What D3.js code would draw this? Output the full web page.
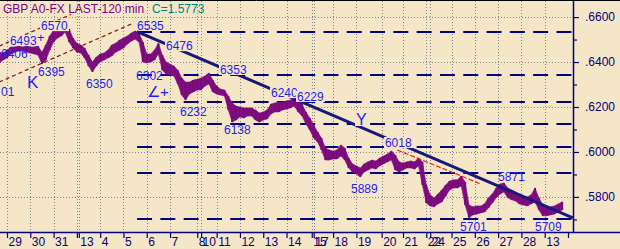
<!DOCTYPE html>
<html>
<head>
<meta charset="utf-8">
<script src="https://cdn.jsdelivr.net/npm/d3@7"></script>
<style>
  body { margin: 0; background: #f5e6c8; }
  svg { display: block; font-family: "Liberation Sans", Arial, sans-serif; }
</style>
</head>
<body>
<svg id="chart" width="620" height="249"></svg>
<script>

// 120 min GBP bars, one sample every 2nd bar, prices in pips above 1.0000
var barStart = -4, barStep = 2;
var highs = [
  6444,6440,6453,6467,6467,6471,6467,6471,6467,6467,
  6471,6444,6476,6516,6542,6551,6556,6569,6547,6507,
  6484,6476,6462,6431,6400,6422,6436,6440,6453,6476,
  6484,6498,6507,6516,6529,6538,6529,6489,6436,6436,
  6453,6484,6431,6400,6391,6382,6364,6329,6311,6311,
  6320,6324,6329,6338,6351,6320,6293,6280,6276,6249,
  6218,6204,6200,6196,6196,6196,6187,6173,6178,6187,
  6213,6218,6222,6222,6227,6231,6240,6231,6213,6178,
  6151,6120,6089,6062,6018,6009,6004,6009,6031,6018,
  5973,5947,5938,5929,5947,5956,5964,5960,5973,5982,
  5991,6004,5987,5956,5951,5956,5960,5956,5973,5956,
  5853,5809,5796,5813,5831,5853,5871,5876,5876,5893,
  5867,5764,5756,5760,5760,5769,5796,5813,5840,5858,
  5862,5840,5831,5822,5809,5804,5800,5809,5840,5796,
  5764,5751,5756,5760,5769,5778
];
var lows = [
  6396,6409,6418,6436,6444,6449,6449,6444,6440,6436,
  6431,6391,6409,6453,6489,6507,6516,6533,6489,6462,
  6444,6440,6418,6382,6356,6382,6400,6409,6418,6427,
  6444,6453,6462,6480,6493,6502,6489,6400,6396,6400,
  6409,6436,6364,6347,6342,6338,6302,6253,6231,6258,
  6267,6276,6276,6293,6302,6267,6258,6253,6249,6187,
  6133,6142,6156,6151,6160,6160,6142,6133,6142,6147,
  6169,6178,6178,6187,6191,6196,6204,6178,6160,6124,
  6098,6062,6044,6009,5964,5964,5969,5969,5982,5964,
  5929,5911,5902,5889,5911,5920,5929,5924,5938,5947,
  5956,5964,5920,5911,5920,5929,5929,5924,5938,5853,
  5773,5760,5756,5769,5778,5804,5831,5840,5840,5849,
  5764,5707,5720,5724,5729,5733,5751,5773,5796,5813,
  5822,5796,5787,5782,5769,5764,5760,5769,5778,5742,
  5716,5716,5720,5724,5733,5742
];

// day ticks (bar index) and their labels
var dayTicks  = [0,12,24,36,37,48,60,72,84,98,100,108,120,132,144,157,158,168,180,193,204,216,218,229,241,253,265,277,289];
var dayLabels = ["29","30","31","","13","4","5","6","7","8","10","11","12","13","14","15","17","18","19","20","21","22","24","25","26","27","28","13",""];

var priceTicks = [5800, 6000, 6200, 6400, 6600];
var minorTicks = [5700, 5900, 6100, 6300, 6500];

// horizontal retracement levels
var levels = [6535, 6342, 6222, 6124, 6024, 5905, 5701];

// drawn lines: [bar, pips] pairs
var trendLine   = [[67, 6535], [291.5, 5707]];
var channelLow  = [[-4, 6311], [65, 6573]];
var channelHigh = [[-4, 6471], [33, 6612]];
var redLine     = [[201, 6009], [244, 5858]];

// swing annotations
var noteText = ["6406","6493","+","6570","6395","K","01","6350","6535","6476","6302","\u2220+","6232","6353","6240","6229","6138","Y","6018","5889","5871","5701","5709"];
var noteBar  = [-3.1, 1.5, 15.5, 17.5, 16, 10.3, -3.1, 40.7, 67, 81.9, 66.5, 72.1, 89.1, 109.7, 136, 149.4, 111.8, 179.8, 194.7, 177.2, 253, 233.4, 272];
var notePips = [6418, 6476, 6489, 6542, 6338, 6284, 6249, 6284, 6542, 6453, 6320, 6244, 6160, 6347, 6244, 6227, 6080, 6120, 6022, 5818, 5871, 5649, 5649];
var noteSize = [12,12,13,12,12,17,12,12,12,12,12,15,12,12,12,12,12,16,12,12,12,12,12];
var noteMask = [0,1,0,1,0,0,0,0,0,1,0,0,0,1,1,1,0,1,1,0,0,0,0];

var bg = "#f5e6c8", navy = "#000080", blue = "#1e1ef5", purple = "#7f0f80";
var axisX = 573, axisY = 232;

var svg = d3.select("#chart");
var x = d3.scaleLinear().domain([0, 289]).range([7, 568]);
var y = d3.scaleLinear().domain([5644, 6676]).range([axisY, 0]);

svg.append("rect").attr("width", 620).attr("height", 249).attr("fill", bg);

// dotted grid
var grid = svg.append("g").attr("stroke", "#858585").attr("stroke-width", 1).attr("stroke-dasharray", "1,2");
grid.selectAll(".vg").data(dayTicks.filter(function(d, i) { return i < dayTicks.length - 1; }))
  .enter().append("line")
    .attr("x1", function(d) { return Math.round(x(d)) + 0.5; })
    .attr("x2", function(d) { return Math.round(x(d)) + 0.5; })
    .attr("y1", 1).attr("y2", axisY);
grid.selectAll(".hg").data(priceTicks)
  .enter().append("line")
    .attr("x1", 0).attr("x2", axisX)
    .attr("y1", function(d) { return Math.round(y(d)) + 0.5; })
    .attr("y2", function(d) { return Math.round(y(d)) + 0.5; });

// retracement levels
svg.append("g").selectAll("line").data(levels)
  .enter().append("line")
    .attr("x1", x(trendLine[0][0])).attr("x2", axisX)
    .attr("y1", function(d) { return Math.round(y(d)); })
    .attr("y2", function(d) { return Math.round(y(d)); })
    .attr("stroke", navy).attr("stroke-width", 2)
    .attr("stroke-dasharray", "15,8.3");

// price bars: high/low band plus one bar per sample
var bars = highs.map(function(h, i) { return {i: barStart + i * barStep, hi: h, lo: lows[i]}; });
var band = d3.area()
  .x(function(d) { return x(d.i); })
  .y0(function(d) { return y(d.lo); })
  .y1(function(d) { return y(d.hi); });
svg.append("path").datum(bars)
  .attr("d", band)
  .attr("fill", purple).attr("stroke", purple).attr("stroke-width", 0.6);
svg.append("g").selectAll("rect").data(bars)
  .enter().append("rect")
    .attr("x", function(d) { return x(d.i) - 1; })
    .attr("width", 2)
    .attr("y", function(d) { return y(d.hi); })
    .attr("height", function(d) { return y(d.lo) - y(d.hi); })
    .attr("fill", "#7a0a7c");

var seg = d3.line().x(function(d) { return x(d[0]); }).y(function(d) { return y(d[1]); });

svg.append("path").attr("d", seg(channelLow))
  .attr("fill", "none").attr("stroke", "#8a1010").attr("stroke-width", 1.2).attr("stroke-dasharray", "4,3");
svg.append("path").attr("d", seg(channelHigh))
  .attr("fill", "none").attr("stroke", "#8a1010").attr("stroke-width", 1.2).attr("stroke-dasharray", "4,3");
svg.append("path").attr("d", seg(redLine))
  .attr("fill", "none").attr("stroke", "#f02020").attr("stroke-width", 1.2).attr("stroke-dasharray", "5,2");

svg.append("path").attr("d", seg(trendLine))
  .attr("fill", "none").attr("stroke", "#181878").attr("stroke-width", 3);

// annotations
var notes = svg.append("g");
noteText.forEach(function(t, i) {
  var g = notes.append("g");
  var txt = g.append("text")
    .attr("x", x(noteBar[i])).attr("y", y(notePips[i]))
    .attr("fill", blue)
    .style("font-family", "'Liberation Sans Narrow', 'Arial Narrow', 'Liberation Sans', sans-serif")
    .style("font-size", noteSize[i] + "px")
    .text(t);
  if (noteMask[i]) {
    var b = txt.node().getBBox();
    g.insert("rect", "text")
      .attr("x", b.x - 1).attr("y", b.y + 1)
      .attr("width", b.width + 2).attr("height", b.height - 3)
      .attr("fill", bg);
  }
});

// bottom axis
svg.append("line").attr("x1", 0).attr("x2", 620).attr("y1", axisY + 0.5).attr("y2", axisY + 0.5)
  .attr("stroke", navy).attr("stroke-width", 1.5);
var xAxis = svg.append("g")
  .attr("transform", "translate(0," + axisY + ")")
  .call(d3.axisBottom(x).tickValues(dayTicks)
    .tickFormat(function(d, i) { return dayLabels[i]; })
    .tickSize(6).tickSizeOuter(0));
xAxis.select(".domain").remove();
xAxis.selectAll("line").attr("stroke", navy).attr("stroke-width", 1.2);
xAxis.selectAll("text")
  .attr("x", 1).attr("y", 5)
  .style("text-anchor", "start")
  .style("font-family", "'Liberation Sans', Arial, sans-serif")
  .style("font-size", "12px")
  .attr("fill", navy);

// right price axis
svg.append("line").attr("x1", axisX + 0.5).attr("x2", axisX + 0.5).attr("y1", 0).attr("y2", axisY)
  .attr("stroke", navy).attr("stroke-width", 1.5);
var yAxis = svg.append("g")
  .attr("transform", "translate(" + axisX + ",0)")
  .call(d3.axisRight(y).tickValues(priceTicks)
    .tickFormat(function(d) { return "." + d; })
    .tickSize(6).tickSizeOuter(0));
yAxis.select(".domain").remove();
yAxis.selectAll("line").attr("stroke", navy).attr("stroke-width", 1.2);
yAxis.selectAll("text")
  .attr("x", 12)
  .style("font-family", "'Liberation Sans', Arial, sans-serif")
  .style("font-size", "12px")
  .attr("fill", navy);
var yMinor = svg.append("g")
  .attr("transform", "translate(" + axisX + ",0)")
  .call(d3.axisRight(y).tickValues(minorTicks).tickFormat("").tickSize(4).tickSizeOuter(0));
yMinor.select(".domain").remove();
yMinor.selectAll("line").attr("stroke", navy).attr("stroke-width", 1.2);

// top frame line
svg.append("line").attr("x1", 0).attr("x2", 620).attr("y1", 0.5).attr("y2", 0.5)
  .attr("stroke", "#000").attr("stroke-width", 1);

// title
svg.append("text").attr("x", 3).attr("y", 13)
  .attr("fill", "#800080").style("font-size", "12px")
  .text("GBP A0-FX LAST-120 min");
svg.append("text").attr("x", 152).attr("y", 13)
  .attr("fill", "#008080").style("font-size", "12px")
  .text("C=1.5773");

</script>
</body>
</html>
